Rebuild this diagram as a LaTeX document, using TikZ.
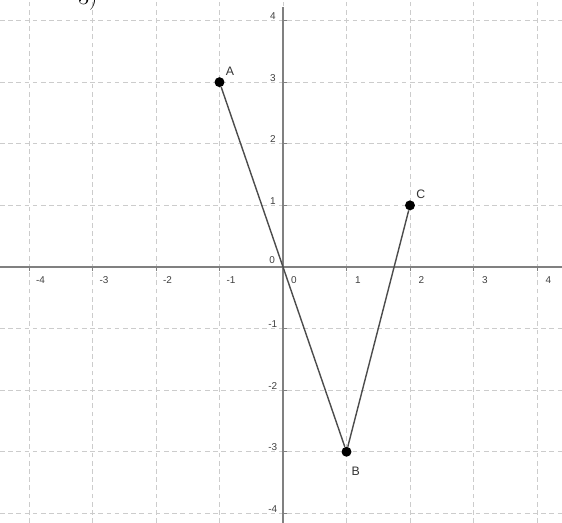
\documentclass[tikz,border=0pt]{standalone}
\usepackage{fontspec}
\setsansfont{Liberation Sans}
\usetikzlibrary{positioning}

\begin{document}
\begin{tikzpicture}[x=1.905cm, y=1.848cm,
  gridline/.style={draw=black!20, dash pattern=on 4pt off 3pt, line width=0.6pt},
  axisline/.style={draw=black!50, line width=1.6pt},
  segline/.style={draw=black!70, line width=1.2pt},
  dot/.style={circle, fill=black, inner sep=0pt, minimum size=8.5pt},
  ticklab/.style={font=\sffamily\fontsize{8.5}{10}\selectfont, text=black!75, inner sep=0pt},
  ptlab/.style={font=\sffamily\fontsize{10.5}{12}\selectfont, text=black!80, inner sep=1pt}]
\useasboundingbox (-4.457,-4.156) rectangle (4.394,4.334);
% --- grid ---
\foreach \k in {-4,...,4} {
  \draw[gridline] (\k,-4.156) -- (\k,4.334);
  \draw[gridline] (-4.457,\k) -- (4.394,\k);
}
% --- axes ---
\draw[axisline] (-4.457,0) -- (4.394,0);
\draw[axisline] (0,-4.156) -- (0,4.22);
\foreach \k in {-4,-3,-2,-1,1,2,3,4} {
  \draw[black!50, line width=0.8pt] (\k,0) -- (\k,-0.07);
  \draw[black!50, line width=0.8pt] (0,\k) -- (0.07,\k);
  \node[ticklab] at (\k+0.18,-0.22) {\k};
  \node[ticklab] at (-0.16,\k+0.07) {\k};
}
\node[ticklab] at (-0.17,0.11) {0};
\node[ticklab] at (0.17,-0.21) {0};
% --- points ---
\node[dot] (A) at (-1,3) {};
\node[dot] (B) at (1,-3) {};
\node[dot] (C) at (2,1) {};
\draw[segline] (A) -- (B) -- (C);
\node[ptlab, above right=1pt and 1pt of A] {A};
\node[ptlab, below right=9pt and 0pt of B] {B};
\node[ptlab, above right=1pt and 1pt of C] {C};
% --- cut caption ---
\node[anchor=base west, inner sep=0pt, font=\fontsize{20}{22}\selectfont] at (-3.228,4.253) {3)};
\end{tikzpicture}
\end{document}
